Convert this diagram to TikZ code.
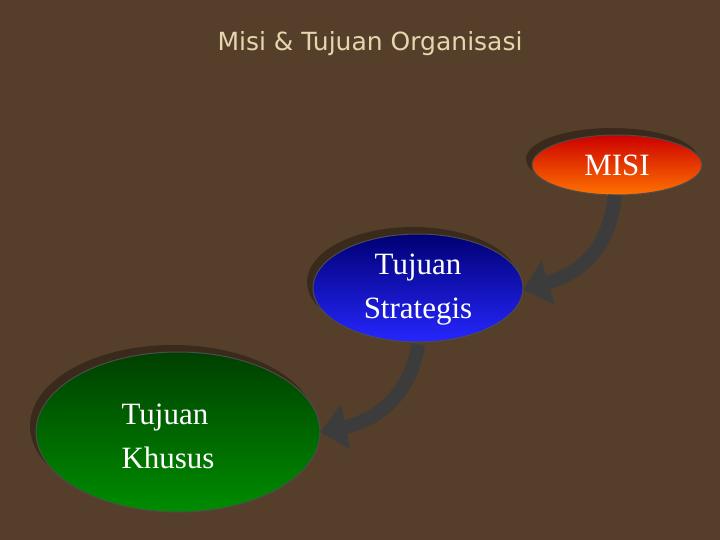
\documentclass[tikz,border=0pt]{standalone}
\usepackage{fontspec}
\setmainfont{Liberation Serif}
\newfontfamily\titlefont{DejaVu Sans}
\usetikzlibrary{arrows.meta,shapes.geometric,shadings}
\definecolor{bgbrown}{HTML}{553F2B}
\definecolor{shadowbrown}{HTML}{3A2A1C}
\definecolor{titletan}{HTML}{E6D6AE}
\definecolor{arrowgray}{HTML}{3C3C3C}
\tikzset{
  goal/.style={ellipse,inner sep=0pt,font=\fontsize{31}{44}\selectfont,
    align=center,text=white},
  flow/.style={arrowgray,line width=14pt,-{Triangle[length=26pt,width=44pt]}},
}
\begin{document}
\begin{tikzpicture}[x=1pt,y=-1pt]
  \fill[bgbrown] (0,0) rectangle (720,540);
  \useasboundingbox (0,0) rectangle (720,540);
  \node (title) at (370,44) {\titlefont\color{titletan}\fontsize{25}{30}\selectfont Misi \& Tujuan Organisasi};

  % ellipses with shadows
  \fill[shadowbrown] (612,159) ellipse (86 and 31);
  \shade[top color=red!80!black,bottom color=orange!90!red,draw=black!70,line width=1pt]
    (617,165) ellipse (85 and 30);
  \node[goal,minimum width=170,minimum height=60] (misi) at (617,165) {MISI};

  \fill[shadowbrown] (413,282) ellipse (106 and 55);
  \shade[top color=blue!45!black,bottom color=blue!85!white,draw=black!70,line width=1pt]
    (418,288) ellipse (105 and 54);
  \node[goal,minimum width=210,minimum height=108] (strat) at (418,290) {Tujuan\\Strategis};

  \fill[shadowbrown] (173,426) ellipse (143 and 81);
  \shade[top color=green!25!black,bottom color=green!55!black,draw=black!70,line width=1pt]
    (178,432) ellipse (142 and 80);
  \node[goal,minimum width=284,minimum height=160] (khusus) at (178,432) {};
  \node[font=\fontsize{31}{44}\selectfont,text=white,align=left,anchor=west] (khususlabel) at (118,436) {Tujuan\\Khusus};

  % arrows
  \draw[flow] (misi.south) ++(-2,0) coordinate (m1) .. controls (610,240) and (590,270) .. (strat.east);
  \draw[flow] (strat.south) ++(0,0) coordinate (s1) .. controls (412,390) and (380,420) .. (khusus.east);
\end{tikzpicture}
\end{document}
